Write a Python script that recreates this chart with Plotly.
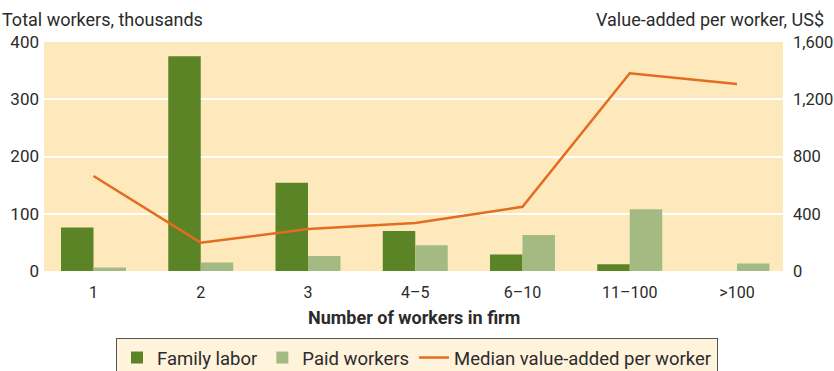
import plotly.graph_objects as go

categories = ["1", "2", "3", "4\u20135", "6\u201310", "11\u2013100", ">100"]
family_labor = [76, 375, 154, 70, 29, 12, 0]
paid_workers = [6, 15, 26, 45, 63, 108, 13]
median_value_added = [664, 198, 293, 335, 449, 1381, 1306]

left_ticks = [0, 100, 200, 300, 400]
right_ticks = [0, 400, 800, 1200, 1600]

FONT = "Roboto, Arial, sans-serif"
TEXT = "#2b2b2b"

fig = go.Figure()
fig.add_trace(go.Bar(
    x=categories, y=family_labor, name="Family labor",
    marker=dict(color="#5b8427", line=dict(width=0)),
))
fig.add_trace(go.Bar(
    x=categories, y=paid_workers, name="Paid workers",
    marker=dict(color="#a3bb83", line=dict(width=0)),
))
fig.add_trace(go.Scatter(
    x=categories, y=median_value_added, name="Median value-added per worker",
    mode="lines", yaxis="y2",
    line=dict(color="#e46c1e", width=2.5),
))

fig.update_layout(
    width=834, height=371,
    margin=dict(l=44, r=51, t=42, b=100, autoexpand=False),
    paper_bgcolor="white",
    plot_bgcolor="#fde9bc",
    barmode="group",
    bargap=0.394,
    bargroupgap=0,
    font=dict(family=FONT, size=16, color=TEXT),
    showlegend=True,
    legend=dict(
        orientation="h", x=0.5, xref="container", xanchor="center",
        y=(371 - 338) / 371, yref="container", yanchor="top",
        bgcolor="#fff3dc", bordercolor="#555555", borderwidth=1,
        font=dict(family=FONT, size=18.5, color=TEXT),
        itemwidth=30, traceorder="normal",
    ),
    xaxis=dict(
        type="category", range=[-0.4615, 6.429],
        showgrid=False, zeroline=False, showline=False,
        ticks="", tickfont=dict(size=16), ticklabelstandoff=10,
        automargin=False,
    ),
    yaxis=dict(
        range=[0, 400], tickvals=left_ticks,
        showgrid=True, gridcolor="white", gridwidth=2,
        zeroline=False, showline=False, ticks="",
        tickfont=dict(size=17), ticklabelstandoff=4, automargin=False,
    ),
    yaxis2=dict(
        range=[0, 1600], tickvals=right_ticks, tickformat=",",
        overlaying="y", side="right",
        showgrid=False, zeroline=False, showline=False, ticks="",
        tickfont=dict(size=16.5), ticklabelstandoff=9, automargin=False,
    ),
    annotations=[
        dict(text="Total workers, thousands", xref="paper", yref="paper",
             x=-44 / 739, y=1, xanchor="left", yanchor="bottom", yshift=10,
             showarrow=False, font=dict(size=18, color=TEXT)),
        dict(text="Value-added per worker, US$", xref="paper", yref="paper",
             x=1 + 43 / 739, y=1, xanchor="right", yanchor="bottom", yshift=10,
             showarrow=False, font=dict(size=18, color=TEXT)),
        dict(text="<b>Number of workers in firm</b>", xref="paper", yref="paper",
             x=0.5, y=0, xanchor="center", yanchor="middle", yshift=-46,
             showarrow=False, font=dict(size=18, color=TEXT)),
    ],
)

fig.write_html("out.html")
